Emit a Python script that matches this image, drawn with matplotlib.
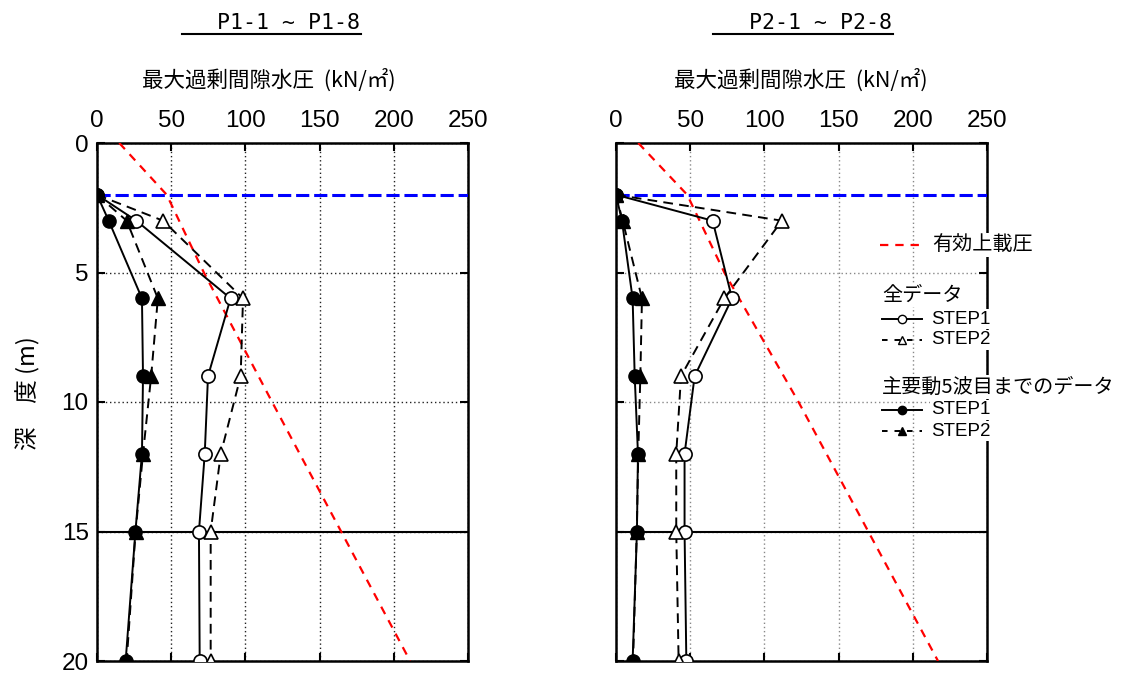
import matplotlib
matplotlib.use('Agg')
import matplotlib.pyplot as plt
from matplotlib.lines import Line2D

plt.rcParams['font.family'] = ['Liberation Sans', 'Noto Sans CJK JP', 'DejaVu Sans']
plt.rcParams['lines.scale_dashes'] = False

W, H = 1123, 678
JP = ['Noto Sans CJK JP', 'DejaVu Sans']

# depth of measuring points (m)
depth = [2, 3, 6, 9, 12, 15, 20]

# P1-1 ~ P1-8
p1_all_s1 = [0, 26.5, 90, 74.8, 72.6, 68.7, 69.2]
p1_all_s2 = [0, 44.5, 98.4, 96.8, 83.4, 76.6, 76.6]
p1_main_s1 = [0, 7.9, 30.3, 31, 30.3, 25.9, 19.3]
p1_main_s2 = [0, 20, 41, 36.5, 31, 26, 20]

# P2-1 ~ P2-8
p2_all_s1 = [0, 65.1, 78.2, 53, 46.2, 46.2, 47.4]
p2_all_s2 = [0, 111.8, 73, 43.8, 40.6, 40.6, 42.2]
p2_main_s1 = [0, 4, 11.2, 12.6, 14.8, 14.1, 11.2]
p2_main_s2 = [0, 4.5, 17.5, 16.4, 15, 14, 11.5]

# effective overburden pressure
ov_depth = [0, 2, 5, 10, 20]
p1_overburden = [15, 47, 72, 118, 211]
p2_overburden = [15, 48, 73, 123, 217]

water_level = 2.0
layer_boundary = 15
xticks = [0, 50, 100, 150, 200, 250]
yticks = [0, 5, 10, 15, 20]

titles = ['P1-1 ~ P1-8', 'P2-1 ~ P2-8']
xlabel = '最大過剰間隙水圧  (kN/㎡)'
ylabel = '深　度 (m)'
legend_labels = ['有効上載圧', '全データ', '主要動5波目までのデータ', 'STEP1', 'STEP2']


def fx(x):
	return x / W


def fy(y):
	return 1 - y / H


fig = plt.figure(figsize=(W / 100, H / 100), dpi=100)


def panel(left, s_all1, s_all2, s_main1, s_main2, overburden, grid_color, show_ylabels):
	ax = fig.add_axes([fx(left), fy(661), 371 / W, 518 / H])
	ax.set_xlim(0, 250)
	ax.set_ylim(20, 0)
	ax.xaxis.tick_top()
	ax.set_xticks(xticks)
	ax.set_yticks(yticks)
	ax.tick_params(direction='in', length=6, width=1.5, top=True, bottom=True,
		left=True, right=True, labelsize=17.5, labelbottom=False, labeltop=True)
	ax.tick_params(axis='x', pad=8)
	ax.tick_params(axis='y', pad=6)
	if not show_ylabels:
		ax.set_yticklabels([])
	ax.grid(True, linestyle=(0, (1, 2)), color=grid_color, lw=1)
	for s in ax.spines.values():
		s.set_linewidth(1.8)

	ax.axhline(layer_boundary, color='black', lw=1.5, zorder=2.5)
	ax.plot(overburden, ov_depth, color='red', ls=(0, (6, 5)), lw=1.6, zorder=3)
	ax.axhline(water_level, color='blue', ls=(0, (9.5, 3.5)), lw=2.2, zorder=3)

	ax.plot(s_all1, depth, color='black', lw=1.4, marker='o', ms=9.5,
		mfc='white', mec='black', mew=1.2, zorder=4)
	ax.plot(s_all2, depth, color='black', lw=1.4, ls=(0, (7, 4.5)), marker='^', ms=10.5,
		mfc='white', mec='black', mew=1.2, zorder=4)
	ax.plot(s_main1, depth, color='black', lw=1.4, marker='o', ms=9.5,
		mfc='black', mec='black', zorder=5)
	ax.plot(s_main2, depth, color='black', lw=1.4, ls=(0, (7, 4.5)), marker='^', ms=10.5,
		mfc='black', mec='black', zorder=5)
	return ax


ax1 = panel(97, p1_all_s1, p1_all_s2, p1_main_s1, p1_main_s2, p1_overburden, '#222222', True)
ax2 = panel(616, p2_all_s1, p2_all_s2, p2_main_s1, p2_main_s2, p2_overburden, '#888888', False)

# titles with underline
fig.text(fx(360), fy(23), titles[0], ha='right', va='center', family='DejaVu Sans Mono', fontsize=15.5)
fig.add_artist(Line2D([fx(182), fx(361)], [fy(34), fy(34)], color='black', lw=1.5))
fig.text(fx(892), fy(23), titles[1], ha='right', va='center', family='DejaVu Sans Mono', fontsize=15.5)
fig.add_artist(Line2D([fx(713), fx(893)], [fy(34), fy(34)], color='black', lw=1.5))

# axis labels
fig.text(fx(269), fy(80), xlabel, ha='center', va='center', family=JP, fontsize=15.5)
fig.text(fx(801), fy(80), xlabel, ha='center', va='center', family=JP, fontsize=15.5)
fig.text(fx(28), fy(393), ylabel, ha='center', va='center', family=JP, fontsize=17, rotation=90)

# legend (drawn by hand so each row hides the frame behind it)
wbox = dict(facecolor='white', edgecolor='none', pad=1)
fig.add_artist(Line2D([fx(880), fx(922)], [fy(245), fy(245)], color='red', ls=(0, (6, 5)), lw=1.6))
fig.text(fx(932), fy(245), legend_labels[0], ha='left', va='center', family=JP, fontsize=14.5, bbox=wbox)
fig.text(fx(882), fy(295), legend_labels[1], ha='left', va='center', family=JP, fontsize=14.5, bbox=wbox)
fig.text(fx(882), fy(387), legend_labels[2], ha='left', va='center', family=JP, fontsize=14.5, bbox=wbox)

rows = [(319, '-', 'o', 'white', legend_labels[3]),
	(340, (0, (4, 5)), '^', 'white', legend_labels[4]),
	(410, '-', 'o', 'black', legend_labels[3]),
	(431, (0, (4, 5)), '^', 'black', legend_labels[4])]
for y, ls, mk, fc, lab in rows:
	fig.add_artist(Line2D([fx(882), fx(922)], [fy(y), fy(y)], color='black', ls=ls, lw=1.4))
	fig.add_artist(Line2D([fx(902)], [fy(y)], marker=mk, ms=6, mfc=fc, mec='black', mew=1, ls='none'))
	fig.text(fx(931), fy(y), lab, ha='left', va='center', fontsize=13.5, bbox=wbox)

fig.savefig('out.png', dpi=100)
